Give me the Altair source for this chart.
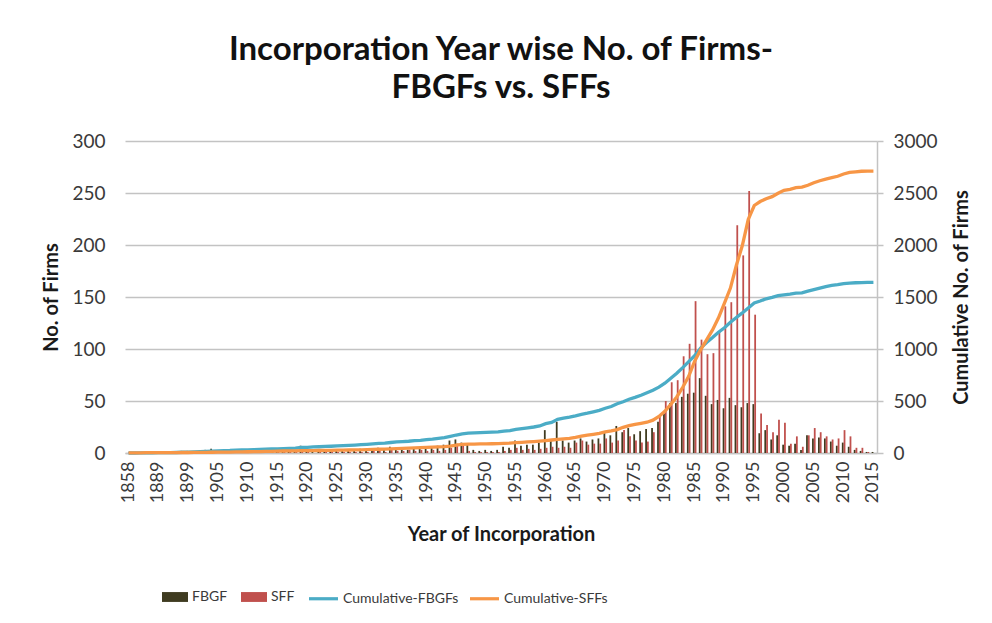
import altair as alt
import pandas as pd

# ---------------- data ----------------
years = [1858, 1863, 1870, 1875, 1882, 1889, 1891, 1893, 1895, 1897,
         1899, 1900, 1901, 1902, 1904] + list(range(1905, 2016))
cats = [str(y) for y in years]

fbgf = ([0, 0, 1, 0, 1, 1, 0, 1, 1, 2, 2, 1, 2, 3, 4] +             # 1858-1904
        [2, 2, 1, 3, 2, 2, 1, 2, 3, 2, 1, 2, 2, 2, 7, 2] +          # 1905-1920
        [3, 2, 3, 2, 3, 3, 2, 3, 4, 3] +                            # 1921-1930
        [4, 5, 3, 6, 5, 4, 3, 5, 4, 6, 5, 7] +                      # 1931-1942
        [8, 12, 13, 10, 8] +                                        # 1943-1947
        [3, 2, 3, 2, 3] +                                           # 1948-1952
        [6, 5, 12, 7, 8, 8] +                                       # 1953-1958
        [10, 22, 12, 30, 12, 10] +                                  # 1959-1964
        [12, 14, 11, 13, 14] +                                      # 1965-1969
        [20, 17, 26] +                                              # 1970-1972
        [20, 24, 18, 21, 23] +                                      # 1973-1977
        [24, 30, 38, 48, 48, 54, 57, 58] +                          # 1978-1985
        [72, 55, 47, 51, 43, 53, 46, 44, 48, 47] +                  # 1986-1995
        [19, 22, 13, 17, 8, 7, 9, 3, 17, 14, 15, 14, 11, 7, 10, 6, 3, 2, 1, 1])  # 1996-2015

sff = ([1, 1, 0, 1, 0, 0, 1, 0, 0, 1, 0, 1, 0, 0, 1] +              # 1858-1904
       [1, 1, 0, 1, 1, 1, 1, 1, 1, 1, 2, 1, 1] +                    # 1905-1917
       [1, 1, 1, 0, 1, 1, 1, 1, 1, 1, 1, 1, 1] +                    # 1918-1930
       [2, 2, 1, 3, 2, 2, 3, 2, 3, 2, 3, 2, 3] +                    # 1931-1943
       [5, 9, 7, 2] +                                               # 1944-1947
       [1, 1, 1, 1, 1] +                                            # 1948-1952
       [2, 3, 5, 3, 4, 3] +                                         # 1953-1958
       [4, 5, 6, 5, 6, 5] +                                         # 1959-1964
       [10, 12, 8, 9, 9] +                                          # 1965-1969
       [14, 10, 12, 22, 16, 12, 10] +                               # 1970-1976
       [11, 20, 35, 50, 68, 70] +                                   # 1977-1982
       [93, 105, 146, 109, 95, 96, 117, 141, 145, 219, 190, 252, 133] +  # 1983-1995
       [38, 27, 20, 32, 29, 9, 16, 6, 17, 24, 20, 16, 13, 14, 22, 16, 5, 5, 1, 0])  # 1996-2015

x_labels = ["1858", "1889", "1899"] + [str(y) for y in range(1905, 2016, 5)]

bar_names = ["FBGF", "SFF"]
line_names = ["Cumulative-FBGFs", "Cumulative-SFFs"]
bar_colors = ["#3f3b20", "#c0504d"]
line_colors = ["#4bacc6", "#f79646"]

rows = []
for i, c in enumerate(cats):
    rows.append({"idx": i, "year": c, "series": "FBGF", "value": fbgf[i]})
    rows.append({"idx": i, "year": c, "series": "SFF", "value": sff[i]})
bars_df = pd.DataFrame(rows)

lrows = []
for i, c in enumerate(cats):
    lrows.append({"idx": i, "year": c, "series": "Cumulative-FBGFs", "value": fbgf[i]})
    lrows.append({"idx": i, "year": c, "series": "Cumulative-SFFs", "value": sff[i]})
lines_df = pd.DataFrame(lrows)

FONT = "Lato"
GRID = "#c3c3c3"
LBL = "#3a3a3a"
TTL = "#1a1a1a"

x_enc = alt.X("year:N", sort=cats,
              scale=alt.Scale(paddingInner=0.4, paddingOuter=0.3),
              axis=alt.Axis(values=x_labels, labelAngle=270, labelFontSize=18,
                            labelColor=LBL, labelFont=FONT, labelPadding=8,
                            ticks=False, domainColor=GRID, domainWidth=1.5,
                            title="Year of Incorporation", titleFontSize=20,
                            titleFont=FONT, titleFontWeight="bold",
                            titleColor=TTL, titlePadding=22, grid=False))

bars = alt.Chart(bars_df).mark_bar().encode(
    x=x_enc,
    xOffset=alt.XOffset("series:N", sort=bar_names),
    y=alt.Y("value:Q",
            scale=alt.Scale(domain=[0, 300]),
            axis=alt.Axis(values=[0, 50, 100, 150, 200, 250, 300], grid=True,
                          gridColor=GRID, gridWidth=1.5, domain=False, ticks=False,
                          labelFontSize=19, labelColor=LBL, labelFont=FONT,
                          labelPadding=20, title="No. of Firms", titleFontSize=20,
                          titleFont=FONT, titleFontWeight="bold",
                          titleColor=TTL, titlePadding=10)),
    color=alt.Color("series:N",
                    scale=alt.Scale(domain=bar_names, range=bar_colors),
                    legend=alt.Legend(orient="none", direction="horizontal",
                                      legendX=37, legendY=443, title=None,
                                      symbolType="M-1,-0.38H1V0.38H-1Z",
                                      symbolSize=676, symbolStrokeWidth=0,
                                      labelFontSize=14, labelFont=FONT,
                                      labelColor=LBL, columnPadding=13,
                                      labelOffset=4, padding=0)),
)

lines = alt.Chart(lines_df).transform_window(
    cum="sum(value)", sort=[alt.SortField("idx")], groupby=["series"],
    frame=[None, 0]
).mark_line(strokeWidth=3.3).encode(
    x=alt.X("year:N", sort=cats),
    y=alt.Y("cum:Q",
            scale=alt.Scale(domain=[0, 3000]),
            axis=alt.Axis(orient="right", values=[0, 500, 1000, 1500, 2000, 2500, 3000],
                          format="d", grid=False, domainColor=GRID, domainWidth=1.5,
                          tickColor=GRID, tickSize=6, tickWidth=1.5,
                          labelFontSize=19, labelColor=LBL, labelFont=FONT,
                          labelPadding=10, title="Cumulative No. of Firms",
                          titleFontSize=20, titleFont=FONT, titleFontWeight="bold",
                          titleColor=TTL, titlePadding=14, titleAngle=270,
                          titleBaseline="top")),
    stroke=alt.Stroke("series:N",
                      scale=alt.Scale(domain=line_names, range=line_colors),
                      legend=alt.Legend(orient="none", direction="horizontal",
                                        legendX=182, legendY=441, title=None,
                                        symbolType="stroke", symbolSize=841,
                                        symbolStrokeWidth=3.2,
                                        labelFontSize=14, labelFont=FONT,
                                        labelColor=LBL, columnPadding=4,
                                        labelOffset=3, padding=0)),
    detail="series:N",
)

chart = alt.layer(bars, lines).resolve_scale(
    y="independent", color="independent"
).properties(
    width=752, height=312,
    padding={"left": 117, "top": 133, "right": 107, "bottom": 162},
    autosize=alt.AutoSizeParams(type="none"),
    title=alt.TitleParams(
        text=["Incorporation Year wise No. of Firms-", "FBGFs vs. SFFs"],
        fontSize=33, font=FONT, fontWeight="bold", color="#111111",
        anchor="middle", offset=27, lineHeight=38),
    background="white",
).configure_view(stroke=None)

chart.save("out.html", embed_options={"renderer": "svg", "actions": False})
